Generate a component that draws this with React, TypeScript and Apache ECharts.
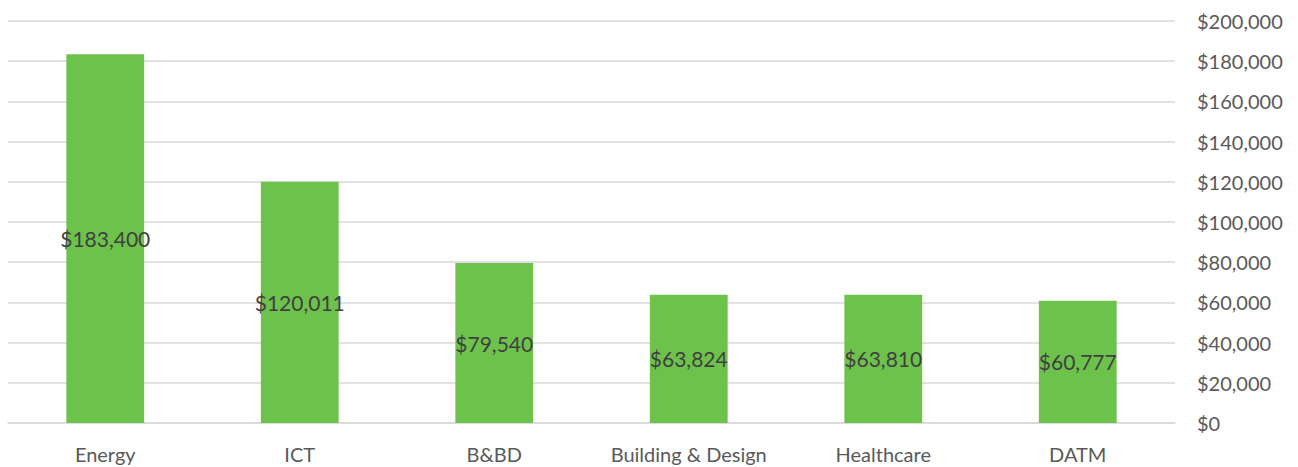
import React, { useEffect, useRef } from "react";
import * as echarts from "echarts";

const categories = ["Energy", "ICT", "B&BD", "Building & Design", "Healthcare", "DATM"];
const values = [183400, 120011, 79540, 63824, 63810, 60777];
const yMin = 0;
const yMax = 200000;
const yInterval = 20000;

const fmt = (v: number) => "$" + v.toLocaleString("en-US");

export default function App() {
  const ref = useRef<HTMLDivElement>(null);
  useEffect(() => {
    if (!ref.current) return;
    const chart = echarts.init(ref.current, undefined, { renderer: "svg" });
    chart.setOption({
      animation: false,
      backgroundColor: "#ffffff",
      textStyle: { fontFamily: "Lato" },
      grid: { left: 8, right: 123, top: 21, bottom: 44, containLabel: false },
      xAxis: {
        type: "category",
        data: categories,
        axisLine: { show: true, lineStyle: { color: "#d9d9d9", width: 1.5 } },
        axisTick: { show: false },
        axisLabel: {
          color: "#595959",
          fontSize: 20,
          margin: 21,
          interval: 0,
          hideOverlap: false,
          fontFamily: "Lato",
        },
      },
      yAxis: {
        type: "value",
        position: "right",
        min: yMin,
        max: yMax,
        interval: yInterval,
        axisLine: { show: false },
        axisTick: { show: false },
        splitLine: { lineStyle: { color: "#d9d9d9", width: 1.5 } },
        axisLabel: {
          color: "#595959",
          fontSize: 20,
          margin: 22,
          fontFamily: "Lato",
          formatter: (v: number) => fmt(v),
        },
      },
      series: [
        {
          type: "bar",
          data: values,
          barWidth: "40%",
          itemStyle: { color: "#6dc24b" },
          label: {
            show: true,
            position: "inside",
            color: "#404040",
            fontSize: 21,
            fontFamily: "Lato",
            formatter: (p: any) => fmt(p.value),
          },
        },
      ],
    });
    return () => chart.dispose();
  }, []);
  return (
    <div
      ref={ref}
      style={{ position: "fixed", left: 0, top: 0, width: 1298, height: 467 }}
    />
  );
}
